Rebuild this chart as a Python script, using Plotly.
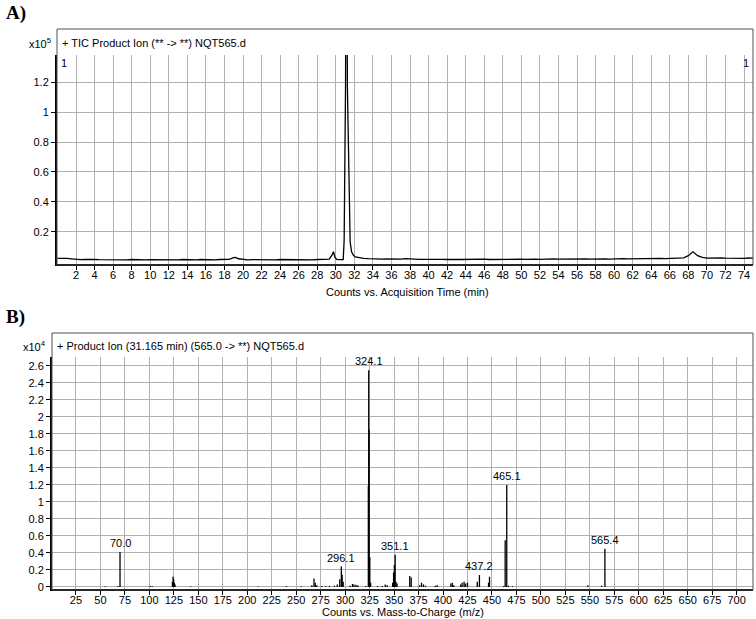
import plotly.graph_objects as go

# A) TIC chromatogram, counts x10^5 vs retention time (min)
rt_min = [
    0.0, 0.5, 1.0, 1.5, 2.0, 2.5, 3.0, 3.5, 4.0, 4.5, 5.0, 5.5, 6.0, 6.5, 7.0, 7.5, 8.0, 8.5, 9.0, 9.5,
    10.0, 10.5, 11.0, 11.5, 12.0, 12.5, 13.0, 13.5, 14.0, 14.5, 15.0, 15.5, 16.0, 16.5, 17.0, 17.5, 18.0, 18.5,
    19.0, 19.2, 19.5, 20.0, 20.5, 21.0, 21.5, 22.0, 22.5, 23.0, 23.5, 24.0, 24.5, 25.0, 25.5, 26.0, 26.5, 27.0,
    27.5, 28.0, 28.5, 29.0, 29.3, 29.6, 29.75, 29.9, 30.1, 30.5, 30.8, 30.9, 31.0, 31.05, 31.1, 31.17, 31.25,
    31.35, 31.45, 31.55, 31.7, 31.9, 32.1, 32.5, 33.0, 33.5, 34.0, 34.5, 35.0, 35.5, 36.0, 36.5, 37.0, 37.5,
    38.0, 38.5, 39.0, 39.5, 40.0, 40.5, 41.0, 41.5, 42.0, 42.5, 43.0, 43.5, 44.0, 44.5, 45.0, 45.5, 46.0, 46.5,
    47.0, 47.5, 48.0, 48.5, 49.0, 49.5, 50.0, 50.5, 51.0, 51.5, 52.0, 52.5, 53.0, 53.5, 54.0, 54.5, 55.0, 55.5,
    56.0, 56.5, 57.0, 57.5, 58.0, 58.5, 59.0, 59.5, 60.0, 60.5, 61.0, 61.5, 62.0, 62.5, 63.0, 63.5, 64.0, 64.5,
    65.0, 65.5, 66.0, 66.5, 67.0, 67.5, 68.0, 68.5, 69.0, 69.5, 70.0, 70.5, 71.0, 71.5, 72.0, 72.5, 73.0, 73.5,
    74.0, 74.5, 75.0,
]
tic_e5 = [
    0.022, 0.024, 0.021, 0.018, 0.014, 0.013, 0.015, 0.012, 0.014, 0.013, 0.012, 0.014, 0.013, 0.011, 0.013, 0.012, 0.014, 0.012, 0.013, 0.011,
    0.013, 0.012, 0.014, 0.012, 0.013, 0.011, 0.012, 0.014, 0.012, 0.013, 0.012, 0.014, 0.012, 0.013, 0.012, 0.014, 0.013, 0.015,
    0.026, 0.028, 0.019, 0.013, 0.012, 0.013, 0.012, 0.014, 0.012, 0.013, 0.012, 0.014, 0.013, 0.012, 0.013, 0.014, 0.012, 0.013,
    0.012, 0.014, 0.013, 0.012, 0.016, 0.045, 0.066, 0.030, 0.015, 0.013, 0.014, 0.140, 0.600, 1.170, 2.200, 3.000, 1.170,
    0.730, 0.270, 0.130, 0.065, 0.042, 0.032, 0.026, 0.022, 0.020, 0.018, 0.019, 0.017, 0.018, 0.016, 0.018, 0.017, 0.020,
    0.016, 0.017, 0.015, 0.016, 0.015, 0.014, 0.016, 0.015, 0.014, 0.016, 0.015, 0.014, 0.015, 0.016, 0.014, 0.015, 0.016, 0.014,
    0.015, 0.016, 0.015, 0.014, 0.016, 0.015, 0.016, 0.015, 0.017, 0.016, 0.015, 0.017, 0.016, 0.018, 0.016, 0.017, 0.016, 0.018,
    0.017, 0.016, 0.018, 0.017, 0.019, 0.017, 0.018, 0.017, 0.019, 0.018, 0.020, 0.018, 0.019, 0.021, 0.019, 0.020, 0.022, 0.020,
    0.021, 0.020, 0.022, 0.021, 0.023, 0.025, 0.040, 0.066, 0.040, 0.028, 0.023, 0.025, 0.022, 0.024, 0.023, 0.022, 0.024, 0.023,
    0.022, 0.024, 0.023,
]

# B) product ion spectrum, counts x10^4 vs m/z
mz = [
    55.0, 68.0, 70.0, 100.9, 103.0, 123.5, 124.2, 124.8, 125.5, 126.2, 142.0, 211.0, 240.0, 255.0,
    266.0, 268.2, 269.5, 271.0, 276.0, 280.0, 284.0, 289.0, 292.0, 294.5, 296.1, 297.0, 298.0,
    305.0, 307.5, 309.0, 311.0, 313.0, 321.0, 323.7, 324.1, 324.5, 325.2, 326.0, 333.0, 338.0,
    341.0, 343.0, 348.5, 349.5, 350.3, 351.1, 352.0, 353.0, 366.0, 367.5, 376.0, 378.0, 380.0,
    382.0, 392.0, 394.0, 408.0, 409.5, 411.0, 418.0, 419.5, 421.5, 423.0, 425.0, 435.0, 437.2,
    446.5, 447.5, 462.0, 463.5, 465.1, 467.0, 471.0, 548.0, 562.0, 565.4,
]
counts_e4 = [
    0.008, 0.010, 0.41, 0.012, 0.008, 0.06, 0.12, 0.09, 0.05, 0.03, 0.008, 0.006, 0.010, 0.008,
    0.02, 0.10, 0.05, 0.02, 0.010, 0.008, 0.012, 0.015, 0.03, 0.09, 0.24, 0.14, 0.06,
    0.015, 0.035, 0.03, 0.025, 0.02, 0.010, 1.19, 2.55, 1.85, 0.35, 0.05, 0.010, 0.010,
    0.03, 0.02, 0.05, 0.17, 0.26, 0.38, 0.06, 0.04, 0.13, 0.11, 0.02, 0.05, 0.03,
    0.015, 0.015, 0.02, 0.04, 0.05, 0.02, 0.03, 0.05, 0.06, 0.04, 0.05, 0.06, 0.14,
    0.05, 0.12, 0.010, 0.55, 1.20, 0.015, 0.008, 0.02, 0.015, 0.45,
]
peak_labels = ["70.0", "296.1", "324.1", "351.1", "437.2", "465.1", "565.4"]

a_xticks = list(range(2, 75, 2))
a_yticks = [0.2, 0.4, 0.6, 0.8, 1.0, 1.2]
b_xticks = list(range(25, 701, 25))
b_yticks = [0, 0.2, 0.4, 0.6, 0.8, 1.0, 1.2, 1.4, 1.6, 1.8, 2.0, 2.2, 2.4, 2.6]

W, H = 756, 619
FONT = "Liberation Sans, Arial, sans-serif"


def fx(p):
    return p / W


def fy(p):
    return 1 - p / H


# stick spectrum: one vertical segment per ion
stick_x, stick_y = [], []
for m, c in zip(mz, counts_e4):
    stick_x += [m, m, None]
    stick_y += [0, c, None]

fig = go.Figure()
fig.add_trace(go.Scatter(x=rt_min, y=tic_e5, mode="lines", line=dict(color="black", width=1.3),
                         xaxis="x", yaxis="y", hoverinfo="skip"))
fig.add_trace(go.Scatter(x=stick_x, y=stick_y, mode="lines", line=dict(color="black", width=1.3),
                         xaxis="x2", yaxis="y2", hoverinfo="skip"))

axis_style = dict(
    showgrid=True, gridcolor="#b0b0b0", gridwidth=1, zeroline=False,
    showline=True, linecolor="black", linewidth=2, automargin=False,
    ticks="outside", ticklen=4, tickwidth=1, tickcolor="black",
    tickfont=dict(family=FONT, size=11, color="black"),
)

fig.update_layout(
    width=W, height=H, autosize=False,
    margin=dict(l=0, r=0, t=0, b=0),
    paper_bgcolor="white", plot_bgcolor="white",
    showlegend=False,
    xaxis=dict(domain=[fx(57), fx(753)], range=[-0.05, 74.97], anchor="y", ticklabelstandoff=-4,
               tickvals=a_xticks, ticktext=[str(v) for v in a_xticks], **axis_style),
    yaxis=dict(domain=[fy(264), fy(55)], range=[-0.016, 1.383], anchor="x",
               tickvals=a_yticks, ticktext=[f"{v:g}" for v in a_yticks], **axis_style),
    xaxis2=dict(domain=[fx(52), fx(753)], range=[0.5, 716.7], anchor="y2", ticklabelstandoff=-4,
                tickvals=b_xticks, ticktext=[str(v) for v in b_xticks], **axis_style),
    yaxis2=dict(domain=[fy(589), fy(357)], range=[-0.024, 2.705], anchor="x2",
                tickvals=b_yticks, ticktext=[f"{v:g}" for v in b_yticks], **axis_style),
)

# panel frames
for x0, y0, x1, y1 in [(57, 29, 753, 265), (52, 333, 753, 590)]:
    fig.add_shape(type="rect", xref="paper", yref="paper",
                  x0=fx(x0), x1=fx(x1), y0=fy(y1), y1=fy(y0),
                  line=dict(color="#505050", width=1), fillcolor="rgba(0,0,0,0)")

txt = dict(family=FONT, size=11, color="black")
notes = [
    dict(x=fx(4), y=fy(13), text="<b>A)</b>", xanchor="left",
         font=dict(family="Liberation Serif, Times New Roman, serif", size=19, color="black")),
    dict(x=fx(4), y=fy(317), text="<b>B)</b>", xanchor="left",
         font=dict(family="Liberation Serif, Times New Roman, serif", size=19, color="black")),
    dict(x=fx(53), y=fy(43), text="x10<sup>5</sup>", xanchor="right", font=txt),
    dict(x=fx(60), y=fy(43), text="+ TIC Product Ion (** -> **) NQT565.d", xanchor="left", font=txt),
    dict(x=fx(48), y=fy(346), text="x10<sup>4</sup>", xanchor="right", font=txt),
    dict(x=fx(55), y=fy(346), text="+ Product Ion (31.165 min) (565.0 -> **) NQT565.d", xanchor="left", font=txt),
    dict(x=fx(59), y=fy(63), text="1", xanchor="left", font=txt),
    dict(x=fx(751), y=fy(63), text="1", xanchor="right", font=txt),
    dict(x=fx(407), y=fy(292), text="Counts vs. Acquisition Time (min)", xanchor="center", font=txt),
    dict(x=fx(403), y=fy(612), text="Counts vs. Mass-to-Charge (m/z)", xanchor="center", font=txt),
]
for n in notes:
    fig.add_annotation(xref="paper", yref="paper", yanchor="middle", showarrow=False, **n)

# m/z labels above the labelled ions
for lab in peak_labels:
    m = float(lab)
    i = min(range(len(mz)), key=lambda k: abs(mz[k] - m))
    fig.add_annotation(x=m, y=counts_e4[i], xref="x2", yref="y2", text=lab, showarrow=False,
                       yanchor="bottom", yshift=1, font=txt)

# the page's default body margin would push the 756x619 figure off the window
fig.write_html("out.html", config={"displayModeBar": False},
               post_script="document.body.style.margin='0';")
